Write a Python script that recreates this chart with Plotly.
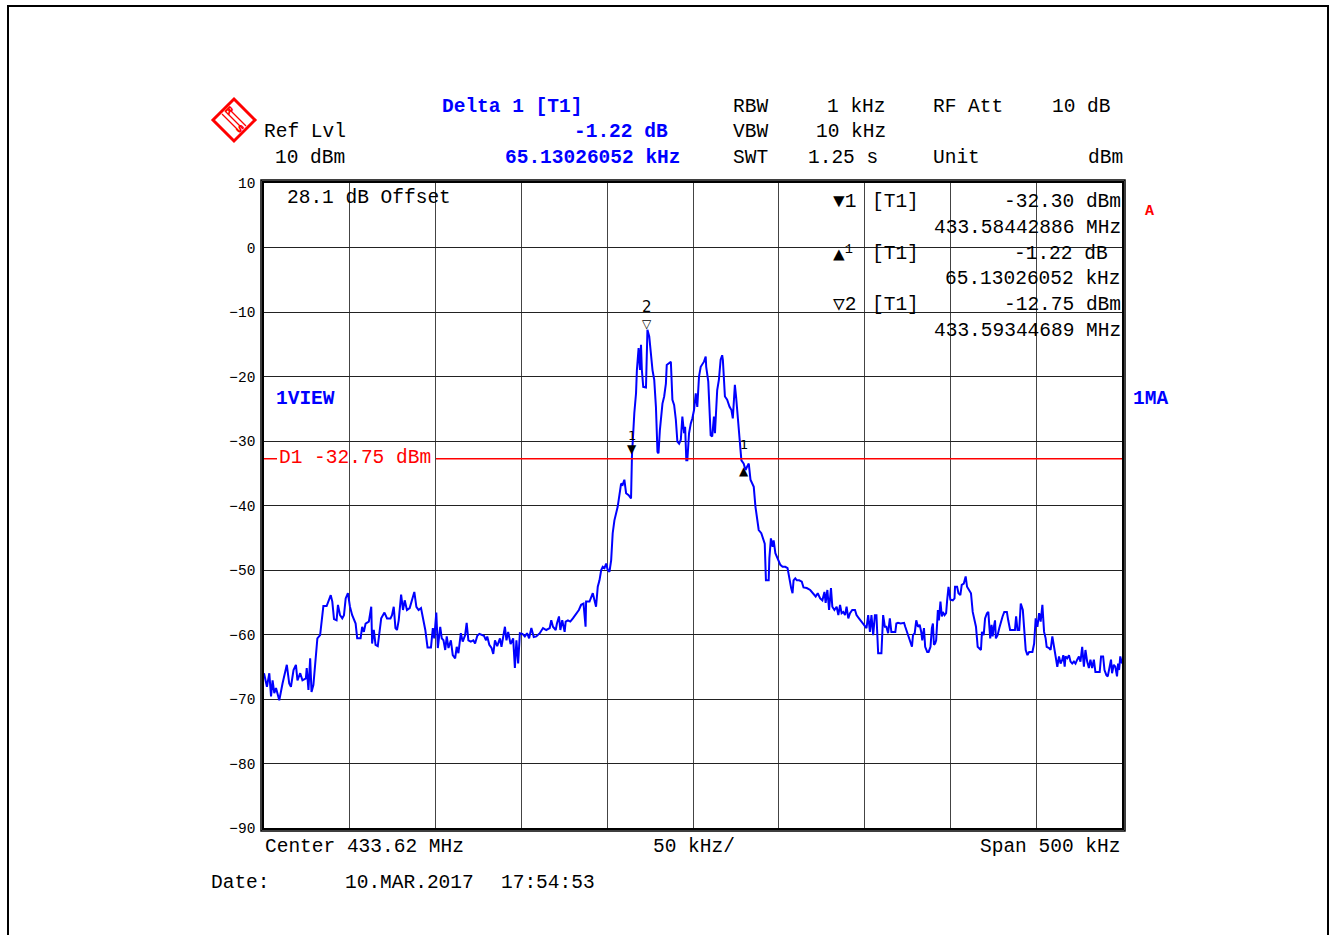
import plotly.graph_objects as go

# ---- sweep settings --------------------------------------------------------
center_mhz = 433.62
span_khz = 500
div_khz = 50
ref_level_dbm = 10
bottom_dbm = -90
start_mhz = center_mhz - span_khz / 2000.0

# ---- trace 1 (view): offset from sweep start [kHz] and level [dBm] ---------
freq_khz = [
    0.0, 1.7, 3.1, 4.1, 5.0, 6.0, 7.0, 8.9, 10.8, 12.2, 13.3, 14.7, 15.7, 17.2, 18.6,
    19.5, 21.1, 22.4, 24.4, 24.9, 25.9, 26.9, 27.7, 28.8, 30.2, 31.1, 32.7, 33.6, 34.6,
    36.5, 37.9, 38.9, 39.8, 40.8, 42.3, 43.1, 44.3, 45.6, 46.6, 47.6, 48.9, 50.1, 51.4,
    53.4, 54.3, 56.3, 57.2, 58.2, 59.2, 61.1, 62.5, 63.0, 64.0, 65.0, 66.3, 67.3, 68.3,
    70.2, 71.7, 73.7, 74.6, 75.6, 76.6, 77.5, 78.5, 79.9, 81.0, 82.0, 83.3, 84.9, 86.2,
    87.6, 88.8, 90.1, 91.5, 93.0, 94.0, 95.3, 97.3, 98.4, 99.2, 100.4, 101.3,
    102.7, 103.6, 104.6, 105.6, 106.5, 107.5, 108.9, 110.0, 111.4, 112.3, 113.3, 114.7,
    115.8, 117.2, 118.1, 119.1, 120.5, 122.0, 123.0, 124.3, 125.5, 126.8, 128.2, 129.4,
    130.1, 131.3, 132.6, 133.6, 134.6, 135.9, 137.5, 138.4, 139.4, 140.4, 141.3, 142.3,
    143.7, 145.2, 146.2, 147.1, 148.1, 149.1, 150.6, 152.0, 153.3, 154.5, 155.8, 157.2,
    158.7, 160.7, 162.6, 164.5, 166.5, 167.4, 168.4, 170.0, 170.7, 171.9, 172.7, 173.8,
    175.2, 175.8, 177.1, 178.5, 180.0, 181.9, 183.5, 184.8, 186.2, 187.4, 187.7, 189.7,
    190.7, 191.6, 193.5, 194.5,
    195.5, 196.5, 197.4, 198.4, 199.4, 200.3, 201.3, 202.3, 203.2, 204.2, 206.1, 207.1,
    208.1, 209.0, 210.0, 211.0, 212.5, 213.9, 214.43, 215.8, 216.8, 217.3, 218.3, 219.1,
    219.7, 220.2, 221.0, 222.6, 223.1, 223.45, 224.5, 225.5, 226.4, 227.4, 228.4, 229.3,
    229.9, 230.7, 231.3, 232.2, 233.2, 234.2, 234.7, 236.1, 237.1, 238.0, 239.0, 240.0,
    240.9, 241.9, 242.9, 243.8, 244.8, 245.4, 246.1, 246.7, 247.7, 248.7, 249.6, 250.6,
    251.6, 252.5, 253.5, 254.5, 255.4, 256.4, 257.4, 257.7, 258.9, 259.7, 260.3, 261.2,
    262.2, 262.8, 263.5, 264.1, 265.1, 266.1, 267.0, 267.4, 268.6, 269.9, 271.3, 272.4,
    273.2, 273.8, 274.4, 275.1, 275.7, 276.7, 277.7, 278.2, 279.56, 280.6, 281.5, 282.5,
    283.5, 284.4, 285.4, 286.4, 287.3, 288.3,
    289.8, 291.2, 291.8, 292.5, 294.1, 294.5, 295.4, 296.4, 297.0, 298.0, 299.5, 300.9,
    302.2, 303.8, 305.1, 306.1, 307.2, 308.0, 308.6, 309.6, 310.5, 311.9, 313.4, 314.4,
    316.3, 318.3, 320.2, 321.5, 322.7, 324.1, 325.4, 326.6, 327.3, 328.3, 329.3, 330.4,
    331.2, 332.4, 333.7, 334.7, 335.7, 336.6, 337.6, 338.6, 339.5, 340.5, 341.5, 342.8,
    344.4, 345.3, 346.7, 348.2, 349.8, 351.1, 352.1, 353.1, 354.0, 355.0, 356.0, 356.9,
    357.9, 358.9, 359.8, 360.8, 361.8, 362.7, 363.7, 364.7, 365.6, 366.6, 367.9, 368.5,
    369.5, 371.0, 373.0, 373.7, 374.9, 375.7, 376.8, 377.6, 378.2, 379.2, 380.1, 381.1,
    382.1, 383.0, 383.6, 384.6, 385.3, 386.5, 387.3, 388.4, 389.2, 389.8, 390.4, 391.1,
    391.7, 392.3,
    392.7, 393.3, 394.2, 395.0, 395.6, 396.6, 397.5, 398.1, 398.9, 400.0, 401.4, 402.4,
    402.7, 403.9, 404.7, 405.8, 406.6, 407.8, 408.9, 409.7, 410.7, 412.0, 413.0, 414.0,
    414.9, 415.9, 416.9, 417.8, 418.4, 419.4, 420.2, 421.3, 422.1, 422.7, 423.2, 424.0,
    424.6, 425.2, 426.0, 426.5, 427.5, 428.5, 429.4, 430.4, 431.4, 432.9, 433.7, 434.8,
    436.2, 437.6, 438.3, 439.1, 440.1, 441.0, 442.2, 443.0, 443.9, 444.9, 445.9, 447.8,
    448.8, 449.7, 450.7, 451.7, 452.6, 453.6, 454.6, 455.5, 456.1, 457.5, 458.4, 459.4,
    460.4, 461.3, 462.3, 463.3, 464.2, 465.2, 465.8, 466.6, 467.1, 468.1, 469.1, 470.0,
    471.0, 472.0, 472.9, 473.9, 474.9, 475.8, 476.8, 477.8, 478.7, 479.7, 480.7, 481.6,
    482.6, 483.6, 484.5, 485.5, 487.0, 487.8, 489.0, 489.8, 490.9, 491.7, 492.8, 493.6,
    494.2, 495.2, 496.1, 497.1, 497.7, 498.3, 499.0, 500.0,
]
level_dbm = [
    -66.0, -68.1, -66.0, -69.6, -67.1, -69.1, -68.3, -70.2, -67.6, -66.0, -64.7, -67.6, -68.1, -65.5, -64.7,
    -67.1, -66.0, -67.1, -66.8, -65.2, -68.6, -63.7, -68.9, -67.8, -63.4, -60.6, -60.1, -57.5, -55.6,
    -55.6, -54.7, -53.9, -54.9, -57.6, -57.8, -55.4, -57.0, -57.5, -57.0, -54.4, -53.6, -55.7, -57.0,
    -58.3, -60.6, -60.6, -58.8, -59.6, -58.3, -58.0, -55.7, -61.4, -59.3, -61.6, -61.8, -59.6, -57.5,
    -56.6, -57.5, -57.5, -57.0, -55.7, -59.0, -59.3, -57.8, -53.8, -56.2, -54.7, -56.2, -55.9, -54.7,
    -53.4, -55.7, -56.2, -55.9, -57.8, -59.3, -62.0, -62.0, -59.0, -60.6, -56.6, -62.1,
    -58.8, -60.6, -60.9, -62.4, -60.3, -62.1, -60.9, -63.2, -63.7, -61.9, -62.9, -59.8,
    -61.1, -60.1, -58.2, -60.9, -61.1, -60.9, -61.4, -60.2, -59.9, -60.1, -60.2, -60.9,
    -60.3, -61.6, -62.1, -63.0, -60.9, -61.8, -60.6, -61.9, -60.1, -58.8, -60.9, -59.6,
    -61.5, -60.6, -65.2, -60.9, -64.5, -59.8, -59.9, -60.3, -59.8, -60.6, -59.0, -60.4,
    -60.3, -59.8, -59.0, -59.3, -59.0, -57.8, -58.8, -59.3, -58.3, -57.2, -59.3, -57.8,
    -59.6, -58.0, -57.8, -58.0, -57.5, -56.8, -56.2, -55.4, -55.2, -58.8, -54.9, -54.9,
    -54.1, -53.6, -55.7, -52.6,
    -51.6, -50.0, -49.5, -49.7, -49.0, -50.0, -50.3, -48.5, -44.3, -42.3, -40.2, -38.1,
    -36.6, -36.8, -36.0, -38.1, -38.4, -38.9, -32.30, -25.7, -22.6, -19.0, -15.6, -19.0,
    -15.1, -19.0, -21.6, -21.7, -15.4, -12.75, -13.8, -17.2, -19.0, -20.5, -24.7, -31.7,
    -31.9, -28.3, -26.2, -24.2, -23.1, -21.1, -18.2, -17.9, -17.7, -23.6, -24.4, -26.7,
    -30.1, -30.4, -29.8, -26.2, -28.8, -27.8, -33.0, -33.0, -28.8, -27.3, -26.5, -25.2,
    -22.6, -24.7, -20.0, -18.5, -18.2, -17.7, -16.9, -18.5, -20.8, -25.2, -29.1, -29.3,
    -26.2, -28.8, -23.6, -22.1, -20.5, -17.4, -16.7, -17.4, -23.1, -23.6, -24.7, -25.2,
    -26.5, -24.2, -21.3, -23.1, -25.2, -27.8, -31.7, -33.0, -33.52, -34.5, -34.0, -33.5,
    -36.0, -36.5, -37.1, -40.2, -41.7, -43.8,
    -44.3, -45.6, -45.9, -51.6, -51.6, -48.2, -45.1, -46.4, -45.4, -47.4, -48.2, -49.2,
    -49.5, -49.5, -49.7, -51.3, -52.8, -53.6, -51.6, -51.3, -51.6, -51.6, -51.8, -52.7,
    -52.8, -53.1, -53.6, -54.1, -53.6, -54.4, -54.7, -53.4, -55.1, -53.1, -56.2, -52.8,
    -55.7, -56.2, -55.7, -57.0, -55.4, -56.7, -56.5, -57.0, -55.7, -57.5, -56.7, -56.2,
    -56.2, -57.0, -57.5, -58.0, -58.5, -59.0, -57.0, -59.6, -57.0, -60.1, -57.0, -57.0,
    -62.9, -62.9, -62.9, -57.0, -58.8, -58.8, -59.8, -57.5, -59.6, -59.6, -59.6, -58.3,
    -58.2, -58.3, -58.2, -58.8, -59.8, -60.3, -61.4, -61.9, -60.1, -59.8, -57.8, -58.8,
    -58.5, -59.6, -60.9, -59.0, -61.9, -62.7, -62.7, -61.9, -59.0, -58.3, -61.6, -61.4,
    -60.9, -57.2,
    -56.2, -57.8, -54.9, -57.2, -56.5, -57.0, -56.7, -54.7, -52.6, -54.6, -54.7, -54.4,
    -52.6, -52.6, -53.6, -53.9, -52.3, -52.1, -51.0, -52.6, -53.1, -53.6, -56.5, -57.8,
    -58.8, -61.9, -62.1, -62.4, -59.6, -60.1, -57.5, -56.7, -56.5, -59.3, -60.6, -58.5,
    -60.3, -59.0, -57.8, -60.6, -60.1, -59.0, -58.0, -57.2, -56.5, -56.5, -57.8, -59.3,
    -59.3, -59.3, -57.2, -59.3, -59.3, -55.2, -56.2, -58.8, -62.4, -63.2, -62.7, -62.7,
    -61.4, -57.5, -58.8, -56.7, -58.0, -55.4, -59.6, -60.6, -61.9, -62.1, -62.4, -60.3,
    -61.9, -62.9, -65.0, -63.4, -64.5, -63.9, -63.2, -65.0, -63.4, -63.7, -63.2, -64.2,
    -64.5, -64.2, -64.5, -63.9, -63.4, -64.2, -61.9, -65.0, -62.4, -64.2, -65.2, -63.9,
    -65.2, -63.9, -65.8, -65.8, -65.8, -63.4, -63.4, -65.5, -66.3, -66.5, -65.0, -63.9,
    -66.0, -64.7, -65.0, -66.5, -64.5, -65.5, -63.4, -64.5,
]

# ---- markers and display line ---------------------------------------------
marker1_mhz = 433.58442886
marker1_dbm = -32.30
delta1_khz = 65.13026052
delta1_db = -1.22
marker2_mhz = 433.59344689
marker2_dbm = -12.75
display_line_dbm = -32.75

# ---- instrument settings text -----------------------------------------------
rbw_text = "1 kHz"
vbw_text = "10 kHz"
swt_text = "1.25 s"
rf_att_text = "10 dB"
unit_text = "dBm"
offset_text = "28.1 dB Offset"
date_text = "10.MAR.2017"
time_text = "17:54:53"

# ---- page geometry (pixels) ------------------------------------------------
W, H = 1329, 935
L, R, T, B = 264, 1122, 183, 828
MONO = "Liberation Mono, DejaVu Sans Mono, monospace"
BLUE = "#0000ff"
RED = "#ff0000"
FS = 19.5


def px(x):
    return (x - L) / (R - L)


def py(y):
    return (B - y) / (B - T)


annotations = []


def label(x, y, text, anchor="left", color="black", size=FS, bold=False):
    annotations.append(dict(
        xref="paper", yref="paper", x=px(x), y=py(y),
        text=f"<b>{text}</b>" if bold else text,
        showarrow=False, xanchor=anchor, yanchor="middle",
        font=dict(family=MONO, size=size, color=color),
    ))


x_mhz = [start_mhz + f / 1000.0 for f in freq_khz]
delta_mhz = marker1_mhz + delta1_khz / 1000.0
delta_dbm = marker1_dbm + delta1_db

fig = go.Figure()
fig.add_trace(go.Scatter(
    x=x_mhz, y=level_dbm, mode="lines",
    line=dict(color=BLUE, width=2), hoverinfo="skip", showlegend=False,
))

# header
label(440, 107, "Delta 1 [T1]", color=BLUE, bold=True)
label(262, 132, "Ref Lvl")
label(347, 158, f"{ref_level_dbm} dBm", anchor="right")
label(670, 132, f"{delta1_db:.2f} dB", anchor="right", color=BLUE, bold=True)
label(683, 158, f"{delta1_khz:.8f} kHz", anchor="right", color=BLUE, bold=True)
label(731, 107, "RBW")
label(888, 107, rbw_text, anchor="right")
label(931, 107, "RF Att")
label(1113, 107, rf_att_text, anchor="right")
label(731, 132, "VBW")
label(888, 132, vbw_text, anchor="right")
label(731, 158, "SWT")
label(806, 158, swt_text)
label(931, 158, "Unit")
label(1125, 158, unit_text, anchor="right")

# inside the graticule
label(285, 198, offset_text)
label(274, 399, "1VIEW", color=BLUE, bold=True)
label(1131, 399, "1MA", color=BLUE, bold=True)
label(1143, 211, "A", color=RED, bold=True, size=15)

# marker table
label(831, 202, "▼1")
label(870, 202, "[T1]")
label(1123, 202, f"{marker1_dbm:.2f} dBm", anchor="right")
label(1123, 228, f"{marker1_mhz:.8f} MHz", anchor="right")
label(831, 254, "▲<sup>1</sup>")
label(870, 254, "[T1]")
label(1110, 254, f"{delta1_db:.2f} dB", anchor="right")
label(1123, 279, f"{delta1_khz:.8f} kHz", anchor="right")
label(831, 305, "▽2")
label(870, 305, "[T1]")
label(1123, 305, f"{marker2_dbm:.2f} dBm", anchor="right")
label(1123, 331, f"{marker2_mhz:.8f} MHz", anchor="right")

# display line label
label(277, 458, f"D1 {display_line_dbm:.2f} dBm", color=RED)

# footer
label(263, 847, f"Center {center_mhz:.2f} MHz")
label(651, 847, f"{div_khz} kHz/")
label(1122, 847, f"Span {span_khz} kHz", anchor="right")
label(209, 883, "Date:")
label(343, 883, date_text)
label(499, 883, time_text)


def marker_glyph(x, y, glyph, anchor, shift, size=12):
    annotations.append(dict(
        xref="x", yref="y", x=x, y=y, text=glyph, showarrow=False,
        yanchor=anchor, yshift=shift,
        font=dict(family="DejaVu Sans", size=size, color="black"),
    ))


marker_glyph(marker1_mhz, marker1_dbm, "▼", "bottom", -2)
marker_glyph(marker1_mhz, marker1_dbm, "1", "middle", 20, size=13)
marker_glyph(delta_mhz, delta_dbm, "▲", "top", 2)
marker_glyph(delta_mhz, delta_dbm, "1", "middle", 19, size=13)
marker_glyph(marker2_mhz, marker2_dbm, "▽", "bottom", -3)
marker_glyph(marker2_mhz, marker2_dbm, "2", "bottom", 12, size=15)

shapes = [
    # page frame
    dict(type="rect", xref="paper", yref="paper", x0=px(8), x1=px(1328), y0=py(945), y1=py(6),
         line=dict(color="black", width=2), layer="below"),
    # outer line of the double graticule border
    dict(type="rect", xref="paper", yref="paper", x0=px(L - 3), x1=px(R + 3), y0=py(B + 3), y1=py(T - 3),
         line=dict(color="black", width=1.5)),
    # display line D1, interrupted by its label
    dict(type="line", xref="paper", yref="y", x0=0, x1=px(277), y0=display_line_dbm, y1=display_line_dbm,
         line=dict(color=RED, width=1.5)),
    dict(type="line", xref="paper", yref="y", x0=px(436), x1=1, y0=display_line_dbm, y1=display_line_dbm,
         line=dict(color=RED, width=1.5)),
]

# R&S logo: red diamond, diagonal stripes, R above and S below
cx, cy, r = 234, 120, 21
shapes.append(dict(
    type="path", xref="paper", yref="paper",
    path=f"M {px(cx)},{py(cy - r)} L {px(cx + r)},{py(cy)} L {px(cx)},{py(cy + r)} L {px(cx - r)},{py(cy)} Z",
    line=dict(color=RED, width=3),
))
for off in (-2, 1, 4):
    shapes.append(dict(
        type="line", xref="paper", yref="paper",
        x0=px(cx - 10 + off), y0=py(cy - 8 - off), x1=px(cx + 8 + off), y1=py(cy + 10 - off),
        line=dict(color=RED, width=1.2),
    ))
annotations.append(dict(xref="paper", yref="paper", x=px(cx - 5), y=py(cy - 9), text="<b>R</b>",
                        showarrow=False, xanchor="center", yanchor="middle", textangle=45,
                        font=dict(family="DejaVu Sans", size=10, color=RED)))
annotations.append(dict(xref="paper", yref="paper", x=px(cx + 6), y=py(cy + 8), text="<b>S</b>",
                        showarrow=False, xanchor="center", yanchor="middle", textangle=45,
                        font=dict(family="DejaVu Sans", size=10, color=RED)))

fig.update_layout(
    width=W, height=H, autosize=False,
    margin=dict(l=L, r=W - R, t=T, b=H - B, pad=0),
    paper_bgcolor="white", plot_bgcolor="white",
    showlegend=False,
    annotations=annotations, shapes=shapes,
    xaxis=dict(
        range=[start_mhz, start_mhz + span_khz / 1000.0], tick0=start_mhz, dtick=div_khz / 1000.0,
        showgrid=True, gridcolor="#444444", gridwidth=1.2, zeroline=False,
        showticklabels=False, ticks="", showline=True, mirror=True, linecolor="black", linewidth=1.5,
        fixedrange=True,
    ),
    yaxis=dict(
        range=[bottom_dbm, ref_level_dbm], tick0=bottom_dbm, dtick=10,
        showgrid=True, gridcolor="#222222", gridwidth=1.2, zeroline=False,
        ticks="", showline=True, mirror=True, linecolor="black", linewidth=1.5,
        tickfont=dict(family=MONO, size=14.5, color="black"), ticklabelstandoff=4,
        fixedrange=True,
    ),
)

fig.write_html("out.html")
